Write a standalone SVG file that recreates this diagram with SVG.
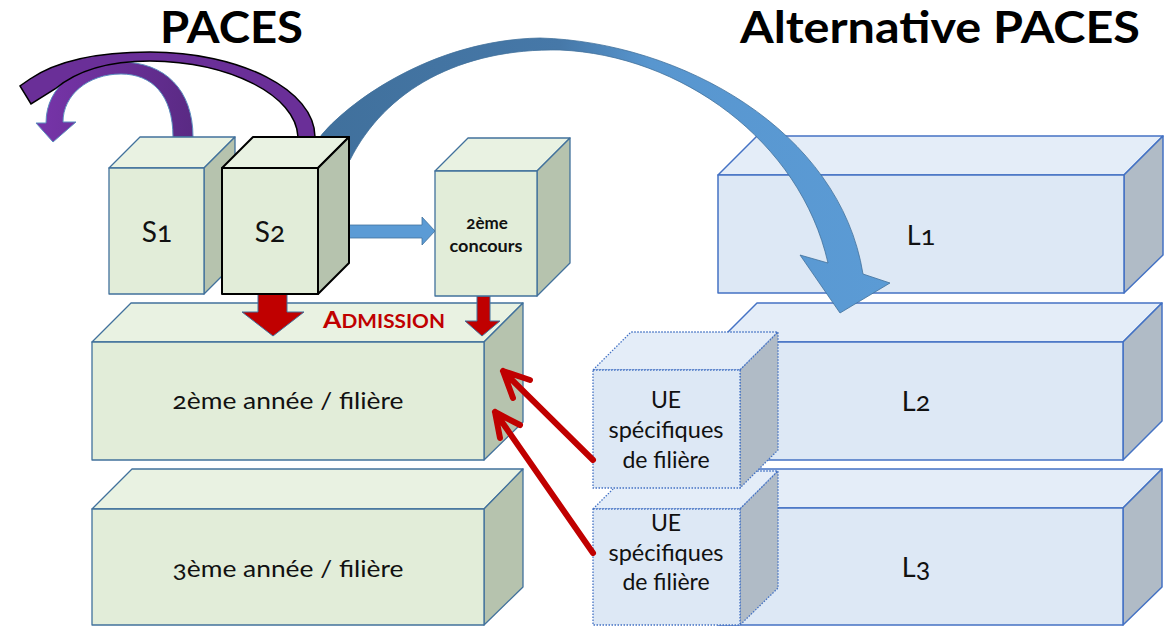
<svg xmlns="http://www.w3.org/2000/svg" width="1173" height="627" viewBox="0 0 1173 627">
<style>
.gf{fill:#e2edd9;stroke:#41719c;stroke-width:1.3;stroke-linejoin:round}
.gt{fill:#e9f2e2;stroke:#41719c;stroke-width:1.3;stroke-linejoin:round}
.gr{fill:#b6c3ae;stroke:#41719c;stroke-width:1.3;stroke-linejoin:round}
.s2 .gf,.s2 .gt,.s2 .gr{stroke:#000;stroke-width:2}
.bf{fill:#dde8f5;stroke:#4472c4;stroke-width:1.5;stroke-linejoin:round}
.bt{fill:#e4edf8;stroke:#4472c4;stroke-width:1.5;stroke-linejoin:round}
.br{fill:#b0bbc6;stroke:#4472c4;stroke-width:1.5;stroke-linejoin:round}
.ue .bf,.ue .bt,.ue .br{stroke-dasharray:1.5 1.5;stroke-width:1.3}
.t{font-family:Lato,"Noto Sans","Liberation Sans",sans-serif;fill:#111;text-anchor:middle;font-variant-numeric:oldstyle-nums}
.title{font-family:Lato,"Liberation Sans",sans-serif;font-weight:bold;font-size:44px;fill:#000}
.red{fill:#c00000;stroke:#41719c;stroke-width:1}
.redl{fill:none;stroke:#c00000;stroke-width:6;stroke-linecap:round;stroke-linejoin:round}
</style>
<defs>
<linearGradient id="blueg" gradientUnits="userSpaceOnUse" x1="320" y1="0" x2="890" y2="0">
<stop offset="0" stop-color="#40709c"/>
<stop offset="0.42" stop-color="#4678a8"/>
<stop offset="0.58" stop-color="#5896cf"/>
<stop offset="1" stop-color="#5b9bd5"/>
</linearGradient>
<linearGradient id="purg" gradientUnits="userSpaceOnUse" x1="190" y1="140" x2="40" y2="130">
<stop offset="0" stop-color="#5a2a84"/>
<stop offset="1" stop-color="#7634a8"/>
</linearGradient>
</defs>
<rect width="1173" height="627" fill="#fff"/>

<text class="title" x="160" y="43" textLength="143" lengthAdjust="spacingAndGlyphs">PACES</text>
<text class="title" x="740" y="43" textLength="400" lengthAdjust="spacingAndGlyphs">Alternative PACES</text>

<g id="l1">
<polygon class="bt" points="718,175 757,136 1163,136 1124,175"/>
<polygon class="br" points="1124,175 1163,136 1163,255 1124,293"/>
<rect class="bf" x="718" y="175" width="406" height="118"/>
<text class="t" x="921" y="245" font-size="27">L1</text>
</g>
<g id="l2">
<polygon class="bt" points="718,342 757,303 1162,303 1123,342"/>
<polygon class="br" points="1123,342 1162,303 1162,421 1123,460"/>
<rect class="bf" x="718" y="342" width="405" height="118"/>
<text class="t" x="916" y="411" font-size="27">L2</text>
</g>
<g id="l3">
<polygon class="bt" points="718,508 757,469 1162,469 1123,508"/>
<polygon class="br" points="1123,508 1162,469 1162,587 1123,625"/>
<rect class="bf" x="718" y="508" width="405" height="117"/>
<text class="t" x="916" y="577" font-size="27">L3</text>
</g>
<g id="ue2" class="ue">
<polygon class="bt" points="593,509 631,471 778,471 740,509"/>
<polygon class="br" points="740,509 778,471 778,588 740,625"/>
<rect class="bf" x="593" y="509" width="147" height="116"/>
<text class="t" x="666" y="531" font-size="23">UE</text>
<text class="t" x="666" y="561" font-size="23" textLength="115" lengthAdjust="spacingAndGlyphs">spécifiques</text>
<text class="t" x="666" y="590" font-size="23">de filière</text>
</g>
<g id="ue1" class="ue">
<polygon class="bt" points="593,370 631,332 778,332 740,370"/>
<polygon class="br" points="740,370 778,332 778,450 740,488"/>
<rect class="bf" x="593" y="370" width="147" height="118"/>
<text class="t" x="666" y="408" font-size="23">UE</text>
<text class="t" x="666" y="438" font-size="23" textLength="115" lengthAdjust="spacingAndGlyphs">spécifiques</text>
<text class="t" x="666" y="468" font-size="23">de filière</text>
</g>

<g id="annee2">
<polygon class="gt" points="92,342 131,303 523,303 484,342"/>
<polygon class="gr" points="484,342 523,303 523,422 484,460"/>
<rect class="gf" x="92" y="342" width="392" height="118"/>
<text class="t" x="288" y="409" font-size="24" textLength="231" lengthAdjust="spacingAndGlyphs">2ème année / filière</text>
</g>
<g id="annee3">
<polygon class="gt" points="92,509 132,469 523,469 484,509"/>
<polygon class="gr" points="484,509 523,469 523,587 484,625"/>
<rect class="gf" x="92" y="509" width="392" height="116"/>
<text class="t" x="288" y="577" font-size="24" textLength="231" lengthAdjust="spacingAndGlyphs">3ème année / filière</text>
</g>

<g id="connectors">
<path d="M173,137 C173,95 152,74 121,74 C88,74 63,95 63,122 L76,122 L53,142 L36,123 L46,123 C46,85 80,62 121,62 C165,62 193,90 193,137 Z" fill="url(#purg)" stroke="#5b8fc0" stroke-width="1"/>
<path d="M298,137 C296,95 230,62 150,61 C105,61 75,72 55,89 L31,104 L20,86 L30,79 C58,60 100,52 150,52 C240,52 315,90 315,137 Z" fill="#6a2f98" stroke="#000" stroke-width="1.5" stroke-linejoin="miter"/>
<path d="M320,137 C345,105 430,40 540,38 C680,42 840,130 863,274 L890,283 L840,313 L800,255 L828,263 C800,140 680,55 560,50 C460,48 385,90 350,160 Z" fill="url(#blueg)" stroke="#41719c" stroke-width="0.8"/>
<path d="M349,225 L422,225 L422,217 L435,231 L422,245 L422,238 L349,238 Z" fill="#5b9bd5" stroke="#41719c" stroke-width="0.8"/>
<path class="red" d="M258,294 L287,294 L287,312 L304,312 L273,336 L242,312 L258,312 Z"/>
<path class="red" d="M477,296 L490,296 L490,321 L500,321 L482,336 L465,321 L477,321 Z"/>
<path class="redl" d="M593,460 L503,371 M530,380 L503,371 L513,398"/>
<path class="redl" d="M593,553 L495,412 M520,425 L495,412 L500,438"/>
</g>

<g id="s1">
<polygon class="gt" points="109,168 140,137 235,137 204,168"/>
<polygon class="gr" points="204,168 235,137 235,263 204,294"/>
<rect class="gf" x="109" y="168" width="95" height="126"/>
<text class="t" x="157" y="242" font-size="28">S1</text>
</g>
<g id="s2" class="s2">
<polygon class="gt" points="222,168 253,137 349,137 318,168"/>
<polygon class="gr" points="318,168 349,137 349,263 318,294"/>
<rect class="gf" x="222" y="168" width="96" height="126"/>
<text class="t" x="270" y="242" font-size="28">S2</text>
</g>
<g id="concours">
<polygon class="gt" points="435,171 468,138 570,138 537,171"/>
<polygon class="gr" points="537,171 570,138 570,263 537,296"/>
<rect class="gf" x="435" y="171" width="102" height="125"/>
<text class="t" x="487" y="229" font-size="17" font-weight="bold">2ème</text>
<text class="t" x="486" y="252" font-size="17" font-weight="bold" textLength="73" lengthAdjust="spacingAndGlyphs">concours</text>
</g>

<text x="323" y="328" font-family="Lato,'Noto Sans','Liberation Sans',sans-serif" font-weight="bold" fill="#c00000" textLength="122" lengthAdjust="spacingAndGlyphs"><tspan font-size="23">A</tspan><tspan font-size="18">DMISSION</tspan></text>
</svg>
